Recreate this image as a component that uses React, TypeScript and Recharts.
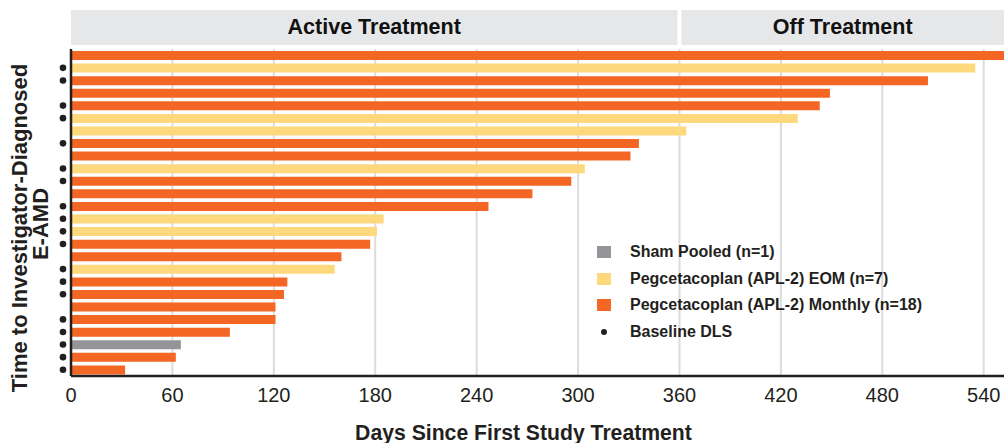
import { BarChart, Bar, XAxis, YAxis, CartesianGrid, Cell, ReferenceArea } from "recharts";

const patientIds = [
  "P01", "P02", "P03", "P04", "P05", "P06", "P07", "P08", "P09", "P10", "P11", "P12", "P13",
  "P14", "P15", "P16", "P17", "P18", "P19", "P20", "P21", "P22", "P23", "P24", "P25", "P26",
];
const daysToEAMD = [552, 535, 507, 449, 443, 430, 364, 336, 331, 304, 296, 273, 247, 185, 181, 177, 160, 156, 128, 126, 121, 121, 94, 65, 62, 32];
const treatmentArm = [
  "Monthly", "EOM", "Monthly", "Monthly", "Monthly", "EOM", "EOM", "Monthly", "Monthly", "EOM", "Monthly", "Monthly", "Monthly",
  "EOM", "EOM", "Monthly", "Monthly", "EOM", "Monthly", "Monthly", "Monthly", "Monthly", "Monthly", "Sham", "Monthly", "Monthly",
];
const baselineDLS = [
  false, true, true, false, true, true, false, true, false, true, true, false, true,
  true, true, true, false, true, true, true, false, true, true, true, true, true,
];
const dayTicks = [0, 60, 120, 180, 240, 300, 360, 420, 480, 540];
const phaseLabels = ["Active Treatment", "Off Treatment"];
const phaseBounds = [0, 360, 552];
const legendArms = ["Sham", "EOM", "Monthly"];
const legendLabels = [
  "Sham Pooled (n=1)",
  "Pegcetacoplan (APL-2) EOM (n=7)",
  "Pegcetacoplan (APL-2) Monthly (n=18)",
  "Baseline DLS",
];

const armColors: Record<string, string> = {
  Sham: "#949599",
  EOM: "#fed87d",
  Monthly: "#f36623",
};

const FONT = '"Liberation Sans", Arial, Helvetica, sans-serif';
const INK = "#231f20";

const data = patientIds.map((id, i) => ({
  id,
  days: daysToEAMD[i],
  arm: treatmentArm[i],
  dls: baselineDLS[i],
}));

// dot in front of each row that had DLS at baseline
function DlsTick(props: any) {
  const row = data.find((d) => d.id === props.payload?.value);
  if (!row || !row.dls) return <g />;
  return <circle cx={props.x} cy={props.y} r={3.3} fill={INK} />;
}

function headerShape(label: string, first: boolean) {
  return (props: any) => {
    const x = first ? props.x : props.x + 2;
    const w = props.width - 2;
    return (
      <g>
        <rect x={x} y={props.y - 39} width={w} height={35} fill="#e6e7e9" />
        <text
          x={x + w / 2}
          y={props.y - 15.5}
          textAnchor="middle"
          fontFamily={FONT}
          fontWeight={700}
          fontSize={21.5}
          fill="#111"
        >
          {label}
        </text>
      </g>
    );
  };
}

function YTitle() {
  const cy = 228;
  return (
    <g fontFamily={FONT} fontWeight={700} fontSize={22} fill={INK}>
      <text x={27} y={cy} textAnchor="middle" transform={`rotate(-90, 27, ${cy})`}>
        Time to Investigator-Diagnosed
      </text>
      <text x={48} y={cy - 4} textAnchor="middle" transform={`rotate(-90, 48, ${cy - 4})`}>
        E-AMD
      </text>
    </g>
  );
}

function XTitle(props: any) {
  const vb = props.viewBox || { x: 71, width: 933 };
  return (
    <text
      x={vb.x + vb.width / 2 - 14}
      y={440}
      textAnchor="middle"
      fontFamily={FONT}
      fontWeight={700}
      fontSize={21.2}
      fill={INK}
    >
      Days Since First Study Treatment
    </text>
  );
}

function LegendBox() {
  return (
    <div
      style={{
        position: "absolute",
        left: 597,
        top: 239,
        fontFamily: FONT,
        fontWeight: 700,
        fontSize: 16,
        color: INK,
      }}
    >
      {legendLabels.map((label, i) => (
        <div key={label} style={{ display: "flex", alignItems: "center", height: 26.6 }}>
          <div style={{ width: 14, display: "flex", justifyContent: "center" }}>
            {i < legendArms.length ? (
              <div style={{ width: 14, height: 12, background: armColors[legendArms[i]] }} />
            ) : (
              <div style={{ width: 6, height: 6, borderRadius: 3, background: INK }} />
            )}
          </div>
          <span style={{ marginLeft: 19, whiteSpace: "nowrap" }}>{label}</span>
        </div>
      ))}
    </div>
  );
}

export default function App() {
  return (
    <div style={{ position: "absolute", left: 0, top: 0, width: 1004, height: 443, background: "#fff" }}>
      <BarChart
        width={1004}
        height={443}
        data={data}
        layout="vertical"
        margin={{ top: 49, right: 0, bottom: 0, left: 0 }}
        barCategoryGap={0}
      >
        <CartesianGrid horizontal={false} stroke="#dcdcdc" strokeWidth={2} verticalValues={dayTicks} />
        {phaseLabels.map((label, i) => (
          <ReferenceArea
            key={label}
            x1={phaseBounds[i]}
            x2={phaseBounds[i + 1]}
            ifOverflow="visible"
            shape={headerShape(label, i === 0)}
          />
        ))}
        <XAxis
          type="number"
          dataKey="days"
          domain={[0, 552]}
          ticks={dayTicks}
          allowDataOverflow
          height={67}
          tickLine={false}
          tickSize={0}
          tickMargin={12}
          axisLine={{ stroke: INK, strokeWidth: 2.5 }}
          tick={{ fill: INK, fontSize: 20, fontFamily: FONT }}
          label={<XTitle />}
        />
        <YAxis
          type="category"
          dataKey="id"
          width={71}
          interval={0}
          tickLine={false}
          tickSize={0}
          tickMargin={8}
          axisLine={{ stroke: INK, strokeWidth: 2.5 }}
          tick={<DlsTick />}
          label={<YTitle />}
        />
        <Bar dataKey="days" barSize={9} isAnimationActive={false}>
          {data.map((d) => (
            <Cell key={d.id} fill={armColors[d.arm]} />
          ))}
        </Bar>
      </BarChart>
      <LegendBox />
    </div>
  );
}
